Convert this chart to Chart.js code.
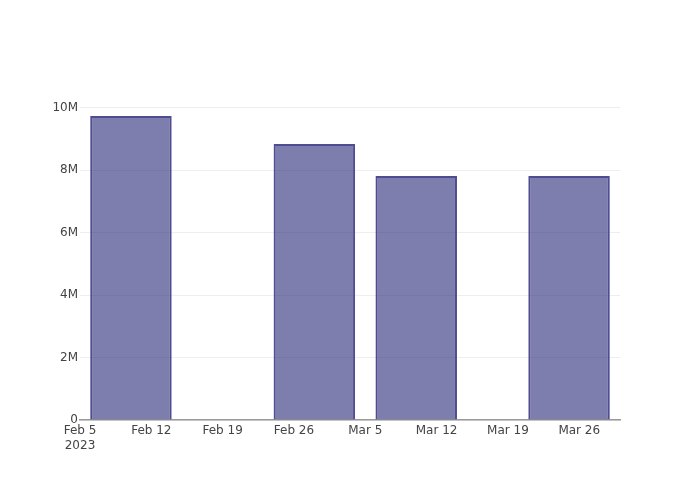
<!DOCTYPE html>
<html lang="en">
<head>
  <meta charset="UTF-8" />
  <title>Weekly bars</title>
  <script src="https://cdn.jsdelivr.net/npm/chart.js"></script>
  <style>
    body { margin: 0; background: #fff; }
    #wrap { width: 700px; height: 500px; }
  </style>
</head>
<body>
  <div id="wrap"><canvas id="chart"></canvas></div>
  <script>
    // bar dates and values
    const barDates = ['2023-02-10', '2023-02-28', '2023-03-10', '2023-03-25'];
    const barValues = [9740000, 8840000, 7820000, 7820000];

    // x axis range and ticks
    const rangeStart = '2023-02-05';
    const rangeEnd = '2023-03-30';
    const tickDates = ['2023-02-05', '2023-02-12', '2023-02-19', '2023-02-26', '2023-03-05', '2023-03-12', '2023-03-19', '2023-03-26'];
    const tickLabels = [['Feb 5', '2023'], 'Feb 12', 'Feb 19', 'Feb 26', 'Mar 5', 'Mar 12', 'Mar 19', 'Mar 26'];

    const yTicks = [0, 2000000, 4000000, 6000000, 8000000, 10000000];
    const yTickLabels = ['0', '2M', '4M', '6M', '8M', '10M'];

    const DAY = 86400000;
    const base = Date.parse(rangeStart);
    const toDay = s => (Date.parse(s) - base) / DAY;

    const points = barDates.map((d, i) => ({ x: toDay(d), y: barValues[i] }));
    const tickDays = tickDates.map(toDay);

    Chart.defaults.font.family = '"DejaVu Sans", Verdana, sans-serif';
    Chart.defaults.font.size = 12;
    Chart.defaults.color = '#444';

    new Chart(document.getElementById('chart'), {
      type: 'bar',
      data: {
        datasets: [{
          data: points,
          backgroundColor: 'rgba(40,40,120,0.6)',
          borderColor: 'rgb(80,76,145)',
          borderWidth: 2,
          borderSkipped: 'bottom',
          categoryPercentage: 1,
          // the ruler takes the 7-day tick spacing, bars are 8 days wide
          barPercentage: 8 / 7
        }]
      },
      options: {
        responsive: true,
        maintainAspectRatio: false,
        animation: false,
        layout: { padding: { top: 101, right: 80, left: 0, bottom: 0 } },
        plugins: { legend: { display: false }, tooltip: { enabled: false } },
        scales: {
          x: {
            type: 'linear',
            offset: false,
            min: 0,
            max: toDay(rangeEnd),
            grid: { display: false, drawTicks: false },
            border: { display: true, color: '#999', width: 1.5 },
            ticks: {
              padding: 4,
              autoSkip: false,
              maxRotation: 0,
              callback: v => {
                const i = tickDays.indexOf(v);
                return i >= 0 ? tickLabels[i] : '';
              }
            },
            afterBuildTicks: s => { s.ticks = tickDays.map(v => ({ value: v })); },
            afterFit: s => { s.height = 80; }
          },
          y: {
            min: 0,
            max: 10220000,
            grid: { color: '#eeeeee', drawTicks: false },
            border: { display: false },
            ticks: {
              padding: 2,
              callback: v => {
                const i = yTicks.indexOf(v);
                return i >= 0 ? yTickLabels[i] : '';
              }
            },
            afterBuildTicks: s => { s.ticks = yTicks.map(v => ({ value: v })); },
            afterFit: s => { s.width = 80; }
          }
        }
      }
    });
  </script>
</body>
</html>
